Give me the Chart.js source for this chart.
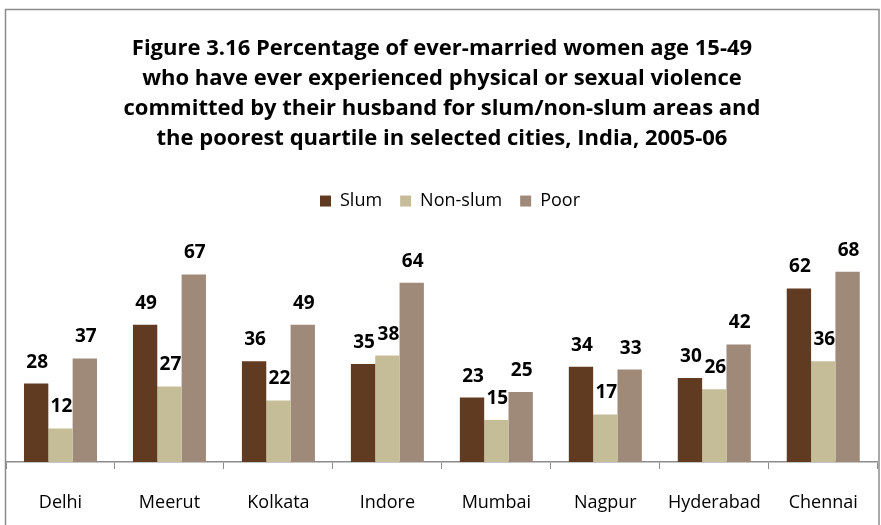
<!DOCTYPE html>
<html>
<head>
<meta charset="utf-8">
<script src="https://cdn.jsdelivr.net/npm/chart.js@4/dist/chart.umd.min.js"></script>
<style>
  html, body { margin: 0; padding: 0; background: #fff; }
  #wrap { width: 881px; height: 525px; position: relative; }
</style>
</head>
<body>
<div id="wrap"><canvas id="c" width="881" height="525"></canvas></div>
<script>
const cities = ["Delhi", "Meerut", "Kolkata", "Indore", "Mumbai", "Nagpur", "Hyderabad", "Chennai"];
const slum    = [28, 49, 36, 35, 23, 34, 30, 62];
const nonSlum = [12, 27, 22, 38, 15, 17, 26, 36];
const poor    = [37, 67, 49, 64, 25, 33, 42, 68];
const titleLines = [
  "Figure 3.16 Percentage of ever-married women age 15-49",
  "who have ever experienced physical or sexual violence",
  "committed by their husband for slum/non-slum areas and",
  "the poorest quartile in selected cities, India, 2005-06"
];

const FONT = "'Open Sans', 'Liberation Sans', sans-serif";

// Outer frame around the whole chart
const framePlugin = {
  id: 'frame',
  afterDraw(chart) {
    const ctx = chart.ctx;
    ctx.save();
    ctx.strokeStyle = '#8c8c8c';
    ctx.lineWidth = 1.5;
    ctx.strokeRect(5.5, 9.5, 873.5, 530);
    ctx.restore();
  }
};

// Extra room below the legend, and a small nudge to the right
const legendTweak = {
  id: 'legendTweak',
  beforeInit(chart) {
    const fit = chart.legend.fit;
    chart.legend.fit = function () {
      fit.bind(chart.legend)();
      this.height += 18;
    };
  },
  afterLayout(chart) {
    chart.legend.left += 8;
    chart.legend.right += 8;
  }
};

// Bold value labels above each bar
const valueLabels = {
  id: 'valueLabels',
  afterDatasetsDraw(chart) {
    const ctx = chart.ctx;
    ctx.save();
    ctx.font = "bold 19px " + FONT;
    ctx.fillStyle = '#000';
    ctx.textAlign = 'center';
    ctx.textBaseline = 'alphabetic';
    chart.data.datasets.forEach((ds, i) => {
      chart.getDatasetMeta(i).data.forEach((bar, j) => {
        ctx.fillText(String(ds.data[j]), bar.x + 1, bar.y - 16);
      });
    });
    ctx.restore();
  }
};

new Chart(document.getElementById('c'), {
  type: 'bar',
  data: {
    labels: cities,
    datasets: [
      { label: 'Slum', data: slum, backgroundColor: '#603B21' },
      { label: 'Non-slum', data: nonSlum, backgroundColor: '#C4BD97' },
      { label: 'Poor', data: poor, backgroundColor: '#9F8979' }
    ]
  },
  options: {
    responsive: false,
    animation: false,
    events: [],
    layout: { padding: { left: 6, right: 3, top: 34, bottom: 0 } },
    datasets: { bar: { categoryPercentage: 0.67, barPercentage: 1.0 } },
    plugins: {
      title: {
        display: true,
        text: titleLines,
        color: '#000',
        font: { family: FONT, size: 22, weight: 'bold', lineHeight: 1.364 },
        padding: { top: 0, bottom: 20 }
      },
      legend: {
        display: true,
        labels: {
          color: '#000',
          font: { family: FONT, size: 18 },
          boxWidth: 11,
          boxHeight: 11,
          padding: 18
        }
      },
      tooltip: { enabled: false }
    },
    scales: {
      x: {
        offset: true,
        afterFit(scale) { scale.height = 63; },
        grid: { display: true, drawOnChartArea: false, drawTicks: true, tickLength: 7, color: '#8c8c8c', offset: true },
        border: { display: true, color: '#8c8c8c', width: 1.5 },
        ticks: { color: '#000', font: { family: FONT, size: 18 }, padding: 23 }
      },
      y: {
        display: false,
        min: 0,
        max: 80
      }
    }
  },
  plugins: [framePlugin, legendTweak, valueLabels]
});
</script>
</body>
</html>
